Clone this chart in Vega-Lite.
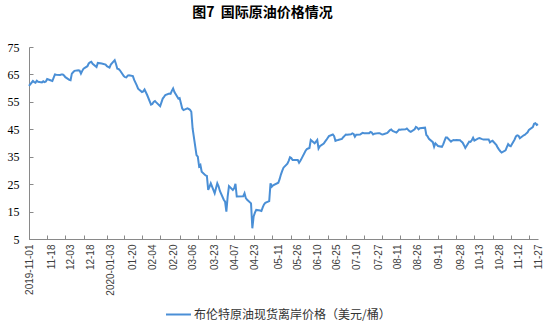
{
  "$schema": "https://vega.github.io/schema/vega-lite/v6.json",
  "width": 509,
  "height": 192,
  "autosize": {"type": "none"},
  "padding": {"left": 29, "top": 47, "right": 10, "bottom": 88},
  "background": "white",
  "title": {"text": "图7\u00a0\u00a0国际原油价格情况", "font": "Noto Sans CJK SC", "fontSize": 14, "fontWeight": "bold", "color": "#000000", "anchor": "middle", "frame": "group", "offset": 21, "dx": -21},
  "config": {"view": {"stroke": null}, "axis": {"grid": false}},
  "data": {"values": [
    {"date": "2019-11-01", "price": 60.8}, {"date": "2019-11-04", "price": 62.6}, {"date": "2019-11-05", "price": 62.2}, {"date": "2019-11-06", "price": 62.0}, {"date": "2019-11-07", "price": 62.7}, {"date": "2019-11-08", "price": 62.3}, {"date": "2019-11-11", "price": 62.1}, {"date": "2019-11-12", "price": 62.5}, {"date": "2019-11-13", "price": 62.2}, {"date": "2019-11-14", "price": 62.4}, {"date": "2019-11-15", "price": 63.3}, {"date": "2019-11-18", "price": 62.8},
    {"date": "2019-11-19", "price": 62.6}, {"date": "2019-11-20", "price": 63.8}, {"date": "2019-11-21", "price": 65.0}, {"date": "2019-11-22", "price": 64.9}, {"date": "2019-11-25", "price": 64.8}, {"date": "2019-11-26", "price": 65.0}, {"date": "2019-11-27", "price": 65.0}, {"date": "2019-11-28", "price": 64.6}, {"date": "2019-11-29", "price": 64.0}, {"date": "2019-12-02", "price": 63.0}, {"date": "2019-12-03", "price": 62.9},
    {"date": "2019-12-04", "price": 65.3}, {"date": "2019-12-05", "price": 65.8}, {"date": "2019-12-06", "price": 66.3}, {"date": "2019-12-09", "price": 66.5}, {"date": "2019-12-10", "price": 66.4}, {"date": "2019-12-11", "price": 65.3}, {"date": "2019-12-12", "price": 66.3}, {"date": "2019-12-13", "price": 67.1}, {"date": "2019-12-16", "price": 68.0}, {"date": "2019-12-17", "price": 69.0}, {"date": "2019-12-18", "price": 69.4},
    {"date": "2019-12-19", "price": 69.6}, {"date": "2019-12-20", "price": 68.9}, {"date": "2019-12-23", "price": 67.7}, {"date": "2019-12-24", "price": 69.2}, {"date": "2019-12-27", "price": 69.0}, {"date": "2019-12-30", "price": 68.6}, {"date": "2019-12-31", "price": 68.0}, {"date": "2020-01-02", "price": 67.5}, {"date": "2020-01-03", "price": 68.6},
    {"date": "2020-01-06", "price": 70.2}, {"date": "2020-01-07", "price": 68.8}, {"date": "2020-01-08", "price": 67.1}, {"date": "2020-01-09", "price": 67.0}, {"date": "2020-01-10", "price": 66.5}, {"date": "2020-01-13", "price": 64.4}, {"date": "2020-01-14", "price": 64.0}, {"date": "2020-01-15", "price": 63.9}, {"date": "2020-01-16", "price": 64.6}, {"date": "2020-01-17", "price": 64.7}, {"date": "2020-01-20", "price": 64.4},
    {"date": "2020-01-21", "price": 63.0}, {"date": "2020-01-22", "price": 62.0}, {"date": "2020-01-23", "price": 61.0}, {"date": "2020-01-24", "price": 59.8}, {"date": "2020-01-27", "price": 58.6}, {"date": "2020-01-28", "price": 58.8}, {"date": "2020-01-29", "price": 59.5}, {"date": "2020-01-30", "price": 58.5}, {"date": "2020-01-31", "price": 57.5}, {"date": "2020-02-03", "price": 54.0}, {"date": "2020-02-04", "price": 54.2},
    {"date": "2020-02-05", "price": 55.0}, {"date": "2020-02-06", "price": 55.3}, {"date": "2020-02-07", "price": 54.8}, {"date": "2020-02-10", "price": 53.4}, {"date": "2020-02-11", "price": 54.8}, {"date": "2020-02-12", "price": 56.2}, {"date": "2020-02-13", "price": 56.8}, {"date": "2020-02-14", "price": 57.5}, {"date": "2020-02-17", "price": 58.0}, {"date": "2020-02-18", "price": 57.9}, {"date": "2020-02-19", "price": 59.0}, {"date": "2020-02-20", "price": 59.9},
    {"date": "2020-02-21", "price": 58.6}, {"date": "2020-02-24", "price": 56.2}, {"date": "2020-02-25", "price": 56.4}, {"date": "2020-02-26", "price": 54.5}, {"date": "2020-02-27", "price": 52.6}, {"date": "2020-02-28", "price": 52.0}, {"date": "2020-03-02", "price": 52.6}, {"date": "2020-03-03", "price": 52.4}, {"date": "2020-03-04", "price": 52.1}, {"date": "2020-03-05", "price": 51.4}, {"date": "2020-03-06", "price": 45.3},
    {"date": "2020-03-09", "price": 35.6}, {"date": "2020-03-10", "price": 35.0}, {"date": "2020-03-11", "price": 31.5}, {"date": "2020-03-12", "price": 32.0}, {"date": "2020-03-13", "price": 29.5}, {"date": "2020-03-16", "price": 28.2}, {"date": "2020-03-17", "price": 28.0}, {"date": "2020-03-18", "price": 22.9}, {"date": "2020-03-19", "price": 24.0}, {"date": "2020-03-20", "price": 25.3}, {"date": "2020-03-23", "price": 21.7},
    {"date": "2020-03-24", "price": 23.5}, {"date": "2020-03-25", "price": 25.3}, {"date": "2020-03-26", "price": 24.2}, {"date": "2020-03-27", "price": 22.5}, {"date": "2020-03-30", "price": 19.3}, {"date": "2020-03-31", "price": 18.6}, {"date": "2020-04-01", "price": 15.0}, {"date": "2020-04-02", "price": 20.5}, {"date": "2020-04-03", "price": 24.3}, {"date": "2020-04-06", "price": 22.9}, {"date": "2020-04-07", "price": 23.5},
    {"date": "2020-04-08", "price": 25.1}, {"date": "2020-04-09", "price": 20.5}, {"date": "2020-04-14", "price": 20.6}, {"date": "2020-04-15", "price": 21.7}, {"date": "2020-04-16", "price": 19.9}, {"date": "2020-04-17", "price": 19.3}, {"date": "2020-04-20", "price": 18.0}, {"date": "2020-04-21", "price": 8.9}, {"date": "2020-04-22", "price": 13.2}, {"date": "2020-04-23", "price": 14.6},
    {"date": "2020-04-24", "price": 15.6}, {"date": "2020-04-27", "price": 15.4}, {"date": "2020-04-28", "price": 15.2}, {"date": "2020-04-29", "price": 16.5}, {"date": "2020-04-30", "price": 17.6}, {"date": "2020-05-01", "price": 18.2}, {"date": "2020-05-04", "price": 18.8}, {"date": "2020-05-05", "price": 25.3}, {"date": "2020-05-06", "price": 24.1}, {"date": "2020-05-07", "price": 24.6}, {"date": "2020-05-11", "price": 25.5},
    {"date": "2020-05-12", "price": 26.8}, {"date": "2020-05-13", "price": 28.5}, {"date": "2020-05-14", "price": 29.8}, {"date": "2020-05-15", "price": 31.0}, {"date": "2020-05-18", "price": 32.5}, {"date": "2020-05-19", "price": 33.5}, {"date": "2020-05-20", "price": 34.8}, {"date": "2020-05-21", "price": 34.5}, {"date": "2020-05-22", "price": 33.8}, {"date": "2020-05-26", "price": 33.8},
    {"date": "2020-05-27", "price": 32.8}, {"date": "2020-05-28", "price": 33.5}, {"date": "2020-05-29", "price": 34.4}, {"date": "2020-06-01", "price": 37.2}, {"date": "2020-06-02", "price": 37.8}, {"date": "2020-06-03", "price": 38.0}, {"date": "2020-06-04", "price": 38.2}, {"date": "2020-06-05", "price": 41.1}, {"date": "2020-06-08", "price": 39.9}, {"date": "2020-06-09", "price": 40.5}, {"date": "2020-06-10", "price": 41.1},
    {"date": "2020-06-11", "price": 38.0}, {"date": "2020-06-12", "price": 38.8}, {"date": "2020-06-15", "price": 39.8}, {"date": "2020-06-16", "price": 40.5}, {"date": "2020-06-17", "price": 41.1}, {"date": "2020-06-18", "price": 41.8}, {"date": "2020-06-19", "price": 42.5}, {"date": "2020-06-22", "price": 43.1}, {"date": "2020-06-23", "price": 42.5}, {"date": "2020-06-24", "price": 40.8}, {"date": "2020-06-25", "price": 41.0},
    {"date": "2020-06-26", "price": 41.1}, {"date": "2020-06-29", "price": 41.5}, {"date": "2020-06-30", "price": 42.1}, {"date": "2020-07-01", "price": 42.6}, {"date": "2020-07-02", "price": 43.1}, {"date": "2020-07-03", "price": 43.0}, {"date": "2020-07-06", "price": 43.2}, {"date": "2020-07-07", "price": 43.5}, {"date": "2020-07-08", "price": 43.3}, {"date": "2020-07-09", "price": 42.3}, {"date": "2020-07-10", "price": 43.0},
    {"date": "2020-07-13", "price": 43.1}, {"date": "2020-07-14", "price": 43.4}, {"date": "2020-07-15", "price": 43.7}, {"date": "2020-07-16", "price": 43.6}, {"date": "2020-07-17", "price": 43.6}, {"date": "2020-07-20", "price": 43.6}, {"date": "2020-07-21", "price": 44.0}, {"date": "2020-07-22", "price": 43.8}, {"date": "2020-07-23", "price": 43.1}, {"date": "2020-07-24", "price": 43.4}, {"date": "2020-07-27", "price": 43.6},
    {"date": "2020-07-28", "price": 43.6}, {"date": "2020-07-29", "price": 43.3}, {"date": "2020-07-30", "price": 43.1}, {"date": "2020-07-31", "price": 43.2}, {"date": "2020-08-03", "price": 43.7}, {"date": "2020-08-04", "price": 44.2}, {"date": "2020-08-05", "price": 44.7}, {"date": "2020-08-06", "price": 44.9}, {"date": "2020-08-07", "price": 44.4}, {"date": "2020-08-10", "price": 43.8}, {"date": "2020-08-11", "price": 44.3},
    {"date": "2020-08-12", "price": 44.9}, {"date": "2020-08-13", "price": 44.8}, {"date": "2020-08-14", "price": 44.9}, {"date": "2020-08-17", "price": 45.0}, {"date": "2020-08-18", "price": 45.3}, {"date": "2020-08-19", "price": 44.8}, {"date": "2020-08-20", "price": 44.3}, {"date": "2020-08-21", "price": 44.1}, {"date": "2020-08-24", "price": 45.0}, {"date": "2020-08-25", "price": 45.9}, {"date": "2020-08-26", "price": 45.6},
    {"date": "2020-08-27", "price": 45.0}, {"date": "2020-08-28", "price": 45.4}, {"date": "2020-09-01", "price": 45.6}, {"date": "2020-09-02", "price": 42.9}, {"date": "2020-09-03", "price": 42.4}, {"date": "2020-09-04", "price": 41.5}, {"date": "2020-09-07", "price": 40.3}, {"date": "2020-09-08", "price": 38.6}, {"date": "2020-09-09", "price": 39.9}, {"date": "2020-09-10", "price": 39.4}, {"date": "2020-09-11", "price": 38.9},
    {"date": "2020-09-14", "price": 38.6}, {"date": "2020-09-15", "price": 39.5}, {"date": "2020-09-16", "price": 40.8}, {"date": "2020-09-17", "price": 42.0}, {"date": "2020-09-18", "price": 42.0}, {"date": "2020-09-21", "price": 40.5}, {"date": "2020-09-22", "price": 40.9}, {"date": "2020-09-23", "price": 41.1}, {"date": "2020-09-24", "price": 41.0}, {"date": "2020-09-25", "price": 41.1}, {"date": "2020-09-28", "price": 41.0},
    {"date": "2020-09-29", "price": 40.5}, {"date": "2020-09-30", "price": 40.1}, {"date": "2020-10-01", "price": 39.2}, {"date": "2020-10-02", "price": 38.2}, {"date": "2020-10-05", "price": 40.5}, {"date": "2020-10-06", "price": 40.4}, {"date": "2020-10-07", "price": 41.0}, {"date": "2020-10-08", "price": 41.9}, {"date": "2020-10-09", "price": 40.9}, {"date": "2020-10-12", "price": 41.7}, {"date": "2020-10-13", "price": 41.8},
    {"date": "2020-10-14", "price": 41.6}, {"date": "2020-10-15", "price": 41.4}, {"date": "2020-10-16", "price": 41.3}, {"date": "2020-10-19", "price": 41.3}, {"date": "2020-10-20", "price": 41.3}, {"date": "2020-10-21", "price": 40.2}, {"date": "2020-10-22", "price": 40.6}, {"date": "2020-10-23", "price": 40.8}, {"date": "2020-10-26", "price": 39.2}, {"date": "2020-10-27", "price": 38.3}, {"date": "2020-10-28", "price": 37.6},
    {"date": "2020-10-29", "price": 37.0}, {"date": "2020-10-30", "price": 36.5}, {"date": "2020-11-02", "price": 37.3}, {"date": "2020-11-03", "price": 38.5}, {"date": "2020-11-04", "price": 39.6}, {"date": "2020-11-05", "price": 39.0}, {"date": "2020-11-06", "price": 38.8}, {"date": "2020-11-09", "price": 41.3}, {"date": "2020-11-10", "price": 42.4}, {"date": "2020-11-11", "price": 42.8}, {"date": "2020-11-12", "price": 42.6},
    {"date": "2020-11-13", "price": 41.7}, {"date": "2020-11-16", "price": 42.8}, {"date": "2020-11-17", "price": 43.0}, {"date": "2020-11-18", "price": 43.5}, {"date": "2020-11-19", "price": 43.9}, {"date": "2020-11-20", "price": 44.8}, {"date": "2020-11-23", "price": 45.8}, {"date": "2020-11-24", "price": 47.0}, {"date": "2020-11-25", "price": 47.2}, {"date": "2020-11-26", "price": 46.6}, {"date": "2020-11-27", "price": 46.9}
  ]},
  "layer": [
    {
      "mark": {"type": "line", "strokeWidth": 2, "interpolate": "linear"},
      "encoding": {
        "x": {
          "field": "date", "type": "temporal",
          "scale": {"type": "utc", "domain": [{"year": 2019, "month": 11, "date": 1, "utc": true}, {"year": 2020, "month": 11, "date": 27, "utc": true}]},
          "axis": {
            "title": null, "ticks": false, "domainColor": "#898989", "domainWidth": 1,
            "values": [
              {"year": 2019, "month": 11, "date": 1, "utc": true}, {"year": 2019, "month": 11, "date": 18, "utc": true}, {"year": 2019, "month": 12, "date": 3, "utc": true}, {"year": 2019, "month": 12, "date": 18, "utc": true},
              {"year": 2020, "month": 1, "date": 3, "utc": true}, {"year": 2020, "month": 1, "date": 20, "utc": true}, {"year": 2020, "month": 2, "date": 4, "utc": true}, {"year": 2020, "month": 2, "date": 20, "utc": true},
              {"year": 2020, "month": 3, "date": 6, "utc": true}, {"year": 2020, "month": 3, "date": 23, "utc": true}, {"year": 2020, "month": 4, "date": 7, "utc": true}, {"year": 2020, "month": 4, "date": 23, "utc": true},
              {"year": 2020, "month": 5, "date": 11, "utc": true}, {"year": 2020, "month": 5, "date": 26, "utc": true}, {"year": 2020, "month": 6, "date": 10, "utc": true}, {"year": 2020, "month": 6, "date": 25, "utc": true},
              {"year": 2020, "month": 7, "date": 10, "utc": true}, {"year": 2020, "month": 7, "date": 27, "utc": true}, {"year": 2020, "month": 8, "date": 11, "utc": true}, {"year": 2020, "month": 8, "date": 26, "utc": true},
              {"year": 2020, "month": 9, "date": 11, "utc": true}, {"year": 2020, "month": 9, "date": 28, "utc": true}, {"year": 2020, "month": 10, "date": 13, "utc": true}, {"year": 2020, "month": 10, "date": 28, "utc": true},
              {"year": 2020, "month": 11, "date": 12, "utc": true}, {"year": 2020, "month": 11, "date": 27, "utc": true}
            ],
            "labelExpr": "(utcFormat(datum.value, '%Y-%m-%d') == '2019-11-01' || utcFormat(datum.value, '%Y-%m-%d') == '2020-01-03') ? utcFormat(datum.value, '%Y-%m-%d') : utcFormat(datum.value, '%m-%d')",
            "labelAngle": -90, "labelAlign": "right", "labelBaseline": "middle", "labelPadding": 5,
            "labelFont": "Liberation Sans", "labelFontSize": 10, "labelColor": "#404040",
            "labelOverlap": false, "labelFlush": false, "labelBound": false
          }
        },
        "y": {
          "field": "price", "type": "quantitative",
          "scale": {"domain": [5, 75], "nice": false, "zero": false},
          "axis": {
            "title": null, "values": [5, 15, 25, 35, 45, 55, 65, 75],
            "tickSize": -4, "tickColor": "#898989", "domainColor": "#898989",
            "labelFont": "Liberation Serif", "labelFontSize": 12, "labelColor": "#000000", "labelPadding": 14
          }
        },
        "color": {
          "datum": "布伦特原油现货离岸价格（美元/桶）",
          "type": "nominal",
          "scale": {"range": ["#4A8FD6"]},
          "legend": {
            "title": null, "orient": "none", "legendX": 136, "legendY": 254,
            "symbolType": "stroke", "symbolSize": 625, "symbolStrokeWidth": 2,
            "labelFont": "Noto Sans CJK SC", "labelFontSize": 12, "labelColor": "#333333", "labelOffset": 2, "labelLimit": 0, "padding": 0
          }
        }
      }
    },
    {
      "mark": {"type": "line", "strokeOpacity": 0},
      "encoding": {
        "x": {
          "field": "date", "type": "temporal",
          "axis": {
            "orient": "top", "offset": -192, "title": null, "labels": false, "domain": false,
            "tickSize": 4, "tickColor": "#898989",
            "values": [
              {"year": 2019, "month": 11, "date": 1, "utc": true}, {"year": 2019, "month": 11, "date": 15, "utc": true}, {"year": 2019, "month": 11, "date": 29, "utc": true}, {"year": 2019, "month": 12, "date": 13, "utc": true},
              {"year": 2019, "month": 12, "date": 31, "utc": true}, {"year": 2020, "month": 1, "date": 13, "utc": true}, {"year": 2020, "month": 1, "date": 27, "utc": true}, {"year": 2020, "month": 2, "date": 10, "utc": true},
              {"year": 2020, "month": 2, "date": 25, "utc": true}, {"year": 2020, "month": 3, "date": 10, "utc": true}, {"year": 2020, "month": 3, "date": 24, "utc": true}, {"year": 2020, "month": 4, "date": 7, "utc": true},
              {"year": 2020, "month": 4, "date": 22, "utc": true}, {"year": 2020, "month": 5, "date": 6, "utc": true}, {"year": 2020, "month": 5, "date": 21, "utc": true}, {"year": 2020, "month": 6, "date": 4, "utc": true},
              {"year": 2020, "month": 6, "date": 18, "utc": true}, {"year": 2020, "month": 7, "date": 2, "utc": true}, {"year": 2020, "month": 7, "date": 16, "utc": true}, {"year": 2020, "month": 7, "date": 30, "utc": true},
              {"year": 2020, "month": 8, "date": 13, "utc": true}, {"year": 2020, "month": 8, "date": 27, "utc": true}, {"year": 2020, "month": 9, "date": 11, "utc": true}, {"year": 2020, "month": 9, "date": 25, "utc": true},
              {"year": 2020, "month": 10, "date": 9, "utc": true}, {"year": 2020, "month": 10, "date": 23, "utc": true}, {"year": 2020, "month": 11, "date": 6, "utc": true}, {"year": 2020, "month": 11, "date": 20, "utc": true}
            ]
          }
        },
        "y": {"field": "price", "type": "quantitative", "axis": null}
      }
    }
  ],
  "resolve": {"axis": {"x": "independent", "y": "independent"}}
}
